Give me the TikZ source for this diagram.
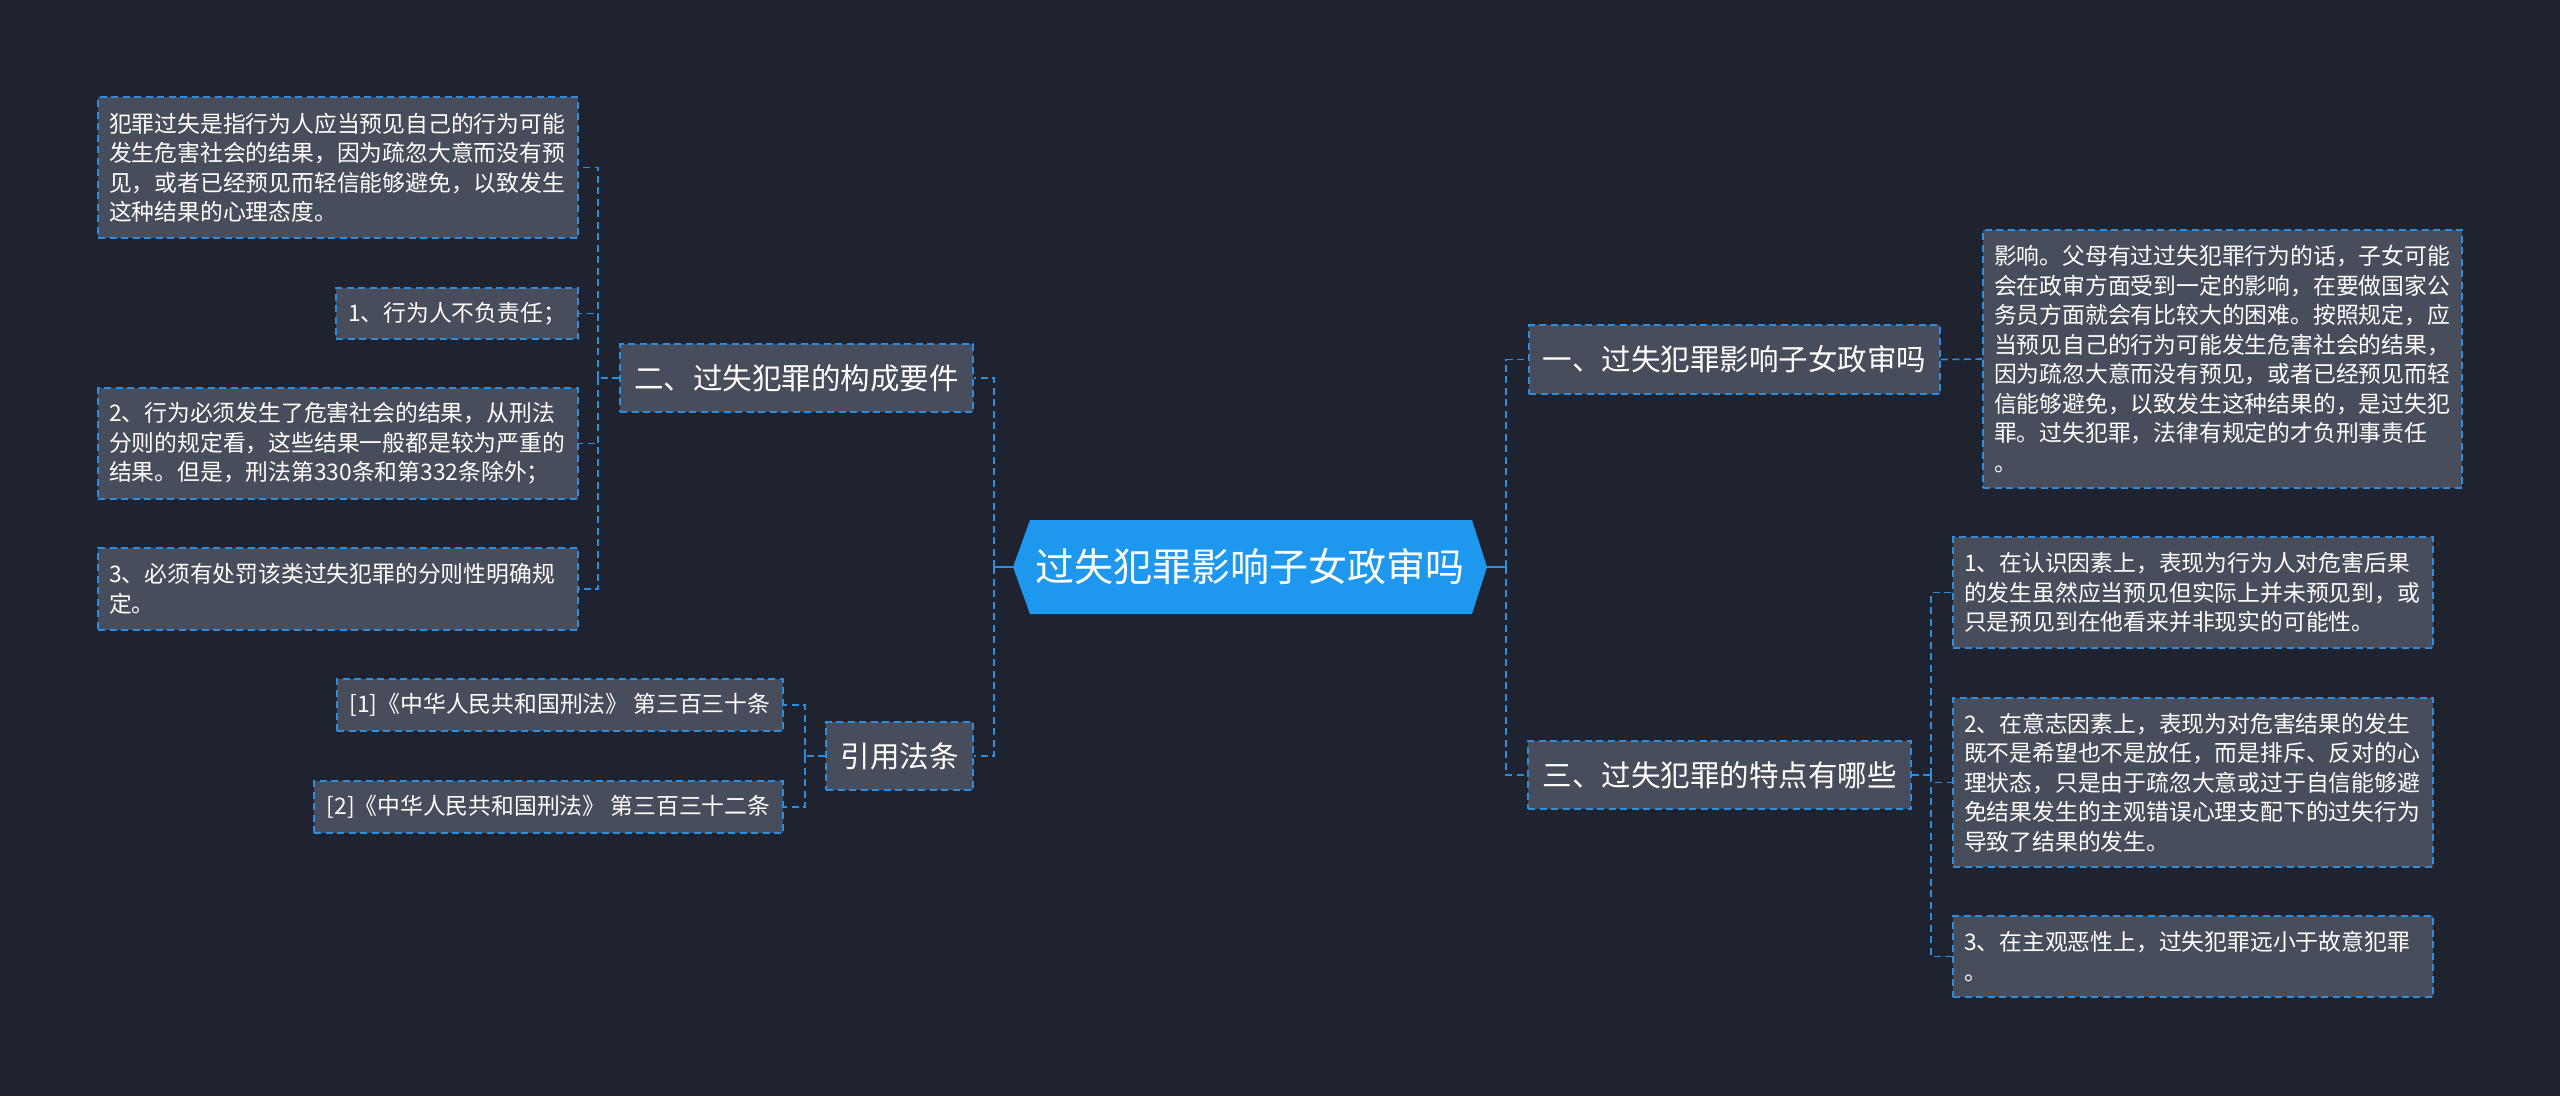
\documentclass[tikz,border=0pt]{standalone}
\usepackage{fontspec}
\setmainfont{Noto Sans CJK SC}
\definecolor{bg}{HTML}{1F232F}
\definecolor{boxfill}{HTML}{474D5B}
\definecolor{lineblue}{HTML}{2B8EE0}
\definecolor{hubfill}{HTML}{1D98EE}
\begin{document}
\begin{tikzpicture}[x=1pt,y=-1pt,
  boxstyle/.style={draw=lineblue, line width=1.6pt, dash pattern=on 7pt off 4.5pt, fill=boxfill, text=white, inner xsep=11pt, inner ysep=0pt},
  small/.style={boxstyle, font=\fontsize{22.8}{29.5}\selectfont, align=left},
  smallone/.style={boxstyle, font=\fontsize{22.8}{29.5}\selectfont, align=center},
  mid/.style={boxstyle, font=\fontsize{29.5}{36}\selectfont, align=center},
  link/.style={draw=lineblue, line width=1.6pt, dash pattern=on 7pt off 4.5pt},
  solidlink/.style={draw=lineblue, line width=2pt}
]
\fill[bg] (0,0) rectangle (2560,1096);
\useasboundingbox (0,0) rectangle (2560,1096);

% hub
\fill[hubfill] (1013,567) -- (1030,520) -- (1472,520) -- (1487,567) -- (1472,614) -- (1030,614) -- cycle;
\node[font=\fontsize{39}{46}\selectfont, text=white, minimum width=474pt, minimum height=94pt, inner sep=0pt] (c) at (1250,567) {过失犯罪影响子女政审吗};

% left branch: second level
\node[mid, minimum width=353pt, minimum height=68pt] (n2) at (796.5,378) {二、过失犯罪的构成要件};
\node[mid, minimum width=147pt, minimum height=68pt] (n4) at (899.5,756) {引用法条};

% left leaves
\node[small, minimum width=480pt, minimum height=141pt, text width=458pt] (l1) at (338,167.5) {犯罪过失是指行为人应当预见自己的行为可能\\发生危害社会的结果，因为疏忽大意而没有预\\见，或者已经预见而轻信能够避免，以致发生\\这种结果的心理态度。};
\node[smallone, minimum width=242pt, minimum height=51pt] (l2) at (457,313.5) {1、行为人不负责任；};
\node[small, minimum width=480pt, minimum height=111pt, text width=458pt] (l3) at (338,443.5) {2、行为必须发生了危害社会的结果，从刑法\\分则的规定看，这些结果一般都是较为严重的\\结果。但是，刑法第330条和第332条除外；};
\node[small, minimum width=480pt, minimum height=82pt, text width=458pt] (l4) at (338,589) {3、必须有处罚该类过失犯罪的分则性明确规\\定。};
\node[smallone, minimum width=446pt, minimum height=52pt] (l5) at (560,705) {[1]《中华人民共和国刑法》 第三百三十条};
\node[smallone, minimum width=469pt, minimum height=52pt] (l6) at (548.5,807) {[2]《中华人民共和国刑法》 第三百三十二条};

% right branch: second level
\node[mid, minimum width=411pt, minimum height=69pt] (n1) at (1734.5,359.5) {一、过失犯罪影响子女政审吗};
\node[mid, minimum width=383pt, minimum height=68pt] (n3) at (1719.5,775) {三、过失犯罪的特点有哪些};

% right leaves
\node[small, minimum width=479pt, minimum height=258pt, text width=457pt] (r1) at (2222.5,359) {影响。父母有过过失犯罪行为的话，子女可能\\会在政审方面受到一定的影响，在要做国家公\\务员方面就会有比较大的困难。按照规定，应\\当预见自己的行为可能发生危害社会的结果，\\因为疏忽大意而没有预见，或者已经预见而轻\\信能够避免，以致发生这种结果的，是过失犯\\罪。过失犯罪，法律有规定的才负刑事责任\\。};
\node[small, minimum width=480pt, minimum height=111pt, text width=458pt] (r3a) at (2193,592.5) {1、在认识因素上，表现为行为人对危害后果\\的发生虽然应当预见但实际上并未预见到，或\\只是预见到在他看来并非现实的可能性。};
\node[small, minimum width=480pt, minimum height=169pt, text width=458pt] (r3b) at (2193,782.5) {2、在意志因素上，表现为对危害结果的发生\\既不是希望也不是放任，而是排斥、反对的心\\理状态，只是由于疏忽大意或过于自信能够避\\免结果发生的主观错误心理支配下的过失行为\\导致了结果的发生。};
\node[small, minimum width=480pt, minimum height=81pt, text width=458pt] (r3c) at (2193,956.5) {3、在主观恶性上，过失犯罪远小于故意犯罪\\。};

% junction coordinates
\coordinate (cL) at (994,567);
\coordinate (cR) at (1506,567);
\coordinate (j2) at (598,378);
\coordinate (j4) at (805,756);
\coordinate (j3) at (1931,775);

% hub connectors
\draw[solidlink] (c.west) -- (cL);
\draw[solidlink] (c.east) -- (cR);
\draw[link] (cL) |- (n2.east);
\draw[link] (cL) |- (n4.east);
\draw[link] (cR) |- (n1.west);
\draw[link] (cR) |- (n3.west);

% left subtree connectors
\draw[link] (n2.west) -- (j2);
\draw[link] (j2) |- (l1.east);
\draw[link] (j2) |- (l2.east);
\draw[link] (j2) |- (l3.east);
\draw[link] (j2) |- (l4.east);
\draw[link] (n4.west) -- (j4);
\draw[link] (j4) |- (l5.east);
\draw[link] (j4) |- (l6.east);

% right subtree connectors
\draw[link] (n1.east) -- (r1.west);
\draw[link] (n3.east) -- (j3);
\draw[link] (j3) |- (r3a.west);
\draw[link] (j3) |- (r3b.west);
\draw[link] (j3) |- (r3c.west);
\end{tikzpicture}
\end{document}
